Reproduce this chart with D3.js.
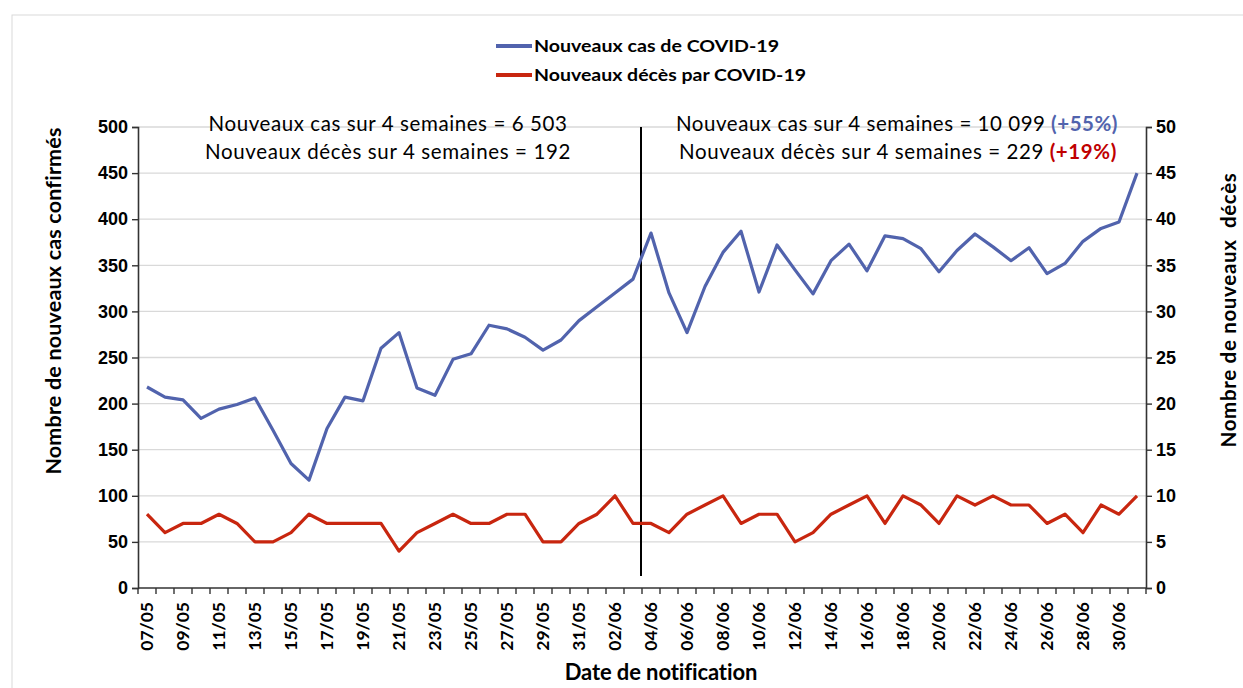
<!DOCTYPE html>
<html><head><meta charset="utf-8">
<script src="https://cdn.jsdelivr.net/npm/d3@7"></script>
<style>
body{margin:0;background:#fff;}
svg{font-family:Lato,"Open Sans",sans-serif;}
</style></head>
<body><svg id="c" width="1243" height="688"></svg>
<script>
const dates = ["07/05","08/05","09/05","10/05","11/05","12/05","13/05","14/05","15/05","16/05","17/05","18/05","19/05","20/05","21/05","22/05","23/05","24/05","25/05","26/05","27/05","28/05","29/05","30/05","31/05","01/06","02/06","03/06","04/06","05/06","06/06","07/06","08/06","09/06","10/06","11/06","12/06","13/06","14/06","15/06","16/06","17/06","18/06","19/06","20/06","21/06","22/06","23/06","24/06","25/06","26/06","27/06","28/06","29/06","30/06","01/07"];
const cases = [218,207,204,184,194,199,206,171,135,117,173,207,203,260,277,217,209,248,254,285,281,272,258,269,290,305,320,335,
               385,320,277,327,364,387,321,372,345,319,355,373,344,382,379,368,343,366,384,370,355,369,341,352,376,390,397,450];
const deaths = [8,6,7,7,8,7,5,5,6,8,7,7,7,7,4,6,7,8,7,7,8,8,5,5,7,8,10,7,
                7,6,8,9,10,7,8,8,5,6,8,9,10,7,10,9,7,10,9,10,9,9,7,8,6,9,8,10];
const leftTicks = [0,50,100,150,200,250,300,350,400,450,500];
const rightTicks = [0,5,10,15,20,25,30,35,40,45,50];
const seriesNames = ["Nouveaux cas de COVID-19","Nouveaux décès par COVID-19"];
const colors = ["#5163ad","#c8260f"];

const svg = d3.select("#c");
const L = 138, R = 1146, T = 127, B = 588;

function fit(sel, target){
  const n = sel.text().length;
  const len = sel.node().getComputedTextLength();
  sel.attr("letter-spacing", ((target-len)/n).toFixed(3));
}

svg.append("rect").attr("x",12).attr("y",15).attr("width",1240).attr("height",690)
  .attr("fill","none").attr("stroke","#d9d9d9");

const x = d3.scaleBand().domain(dates).range([L,R]);
const yL = d3.scaleLinear().domain([0,500]).range([B,T]);
const yR = d3.scaleLinear().domain([0,50]).range([B,T]);

// grid
svg.append("g").selectAll("line").data(leftTicks.filter(d=>d>0)).join("line")
  .attr("x1",L).attr("x2",R).attr("y1",d=>yL(d)).attr("y2",d=>yL(d))
  .attr("stroke","#d9d9d9").attr("stroke-width",1.3);

// left axis
const gl = svg.append("g").attr("transform",`translate(${L},0)`)
  .call(d3.axisLeft(yL).tickValues(leftTicks).tickSize(6).tickPadding(4));
// right axis
const gr = svg.append("g").attr("transform",`translate(${R},0)`)
  .call(d3.axisRight(yR).tickValues(rightTicks).tickSize(6).tickPadding(4));
[gl,gr].forEach(g=>{g.select(".domain").attr("stroke","#333").attr("stroke-width",1.6);
  g.selectAll(".tick line").attr("stroke","#333").attr("stroke-width",1.4);
  g.selectAll(".tick text").attr("font-size",18).attr("font-weight","bold").attr("fill","#000");});

// bottom axis: ticks at boundaries
const gb = svg.append("g").attr("transform",`translate(0,${B})`);
gb.append("line").attr("x1",L).attr("x2",R).attr("stroke","#333").attr("stroke-width",1.6);
gb.selectAll("line.t").data(dates.concat(["end"])).join("line").attr("class","t")
  .attr("x1",(d,i)=>L+i*x.bandwidth()).attr("x2",(d,i)=>L+i*x.bandwidth())
  .attr("y1",0).attr("y2",6).attr("stroke","#333").attr("stroke-width",1.4);
gb.selectAll("text").data(dates.filter((d,i)=>i%2===0)).join("text")
  .attr("transform",d=>`translate(${x(d)+x.bandwidth()/2+6},14) rotate(-90)`)
  .attr("text-anchor","end").attr("font-size",17.5).attr("font-weight","bold").text(d=>d);

// vertical separator
svg.append("line").attr("x1",L+28*x.bandwidth()-1).attr("x2",L+28*x.bandwidth()-1)
  .attr("y1",T).attr("y2",576).attr("stroke","#000").attr("stroke-width",2);

// lines
const lineC = d3.line().x((d,i)=>x(dates[i])+x.bandwidth()/2).y(d=>yL(d));
const lineD = d3.line().x((d,i)=>x(dates[i])+x.bandwidth()/2).y(d=>yR(d));
svg.append("path").datum(cases).attr("d",lineC).attr("fill","none")
  .attr("stroke",colors[0]).attr("stroke-width",3.2).attr("stroke-linejoin","round");
svg.append("path").datum(deaths).attr("d",lineD).attr("fill","none")
  .attr("stroke",colors[1]).attr("stroke-width",3.2).attr("stroke-linejoin","round");

// legend
seriesNames.forEach((n,i)=>{
  const yy = 46 + i*29;
  svg.append("line").attr("x1",496).attr("x2",532).attr("y1",yy).attr("y2",yy)
    .attr("stroke",colors[i]).attr("stroke-width",4);
  svg.append("text").attr("x",534).attr("y",yy+6).attr("font-size",17)
    .attr("font-weight","bold").attr("textLength", i===0?245:272).attr("lengthAdjust","spacingAndGlyphs").text(n);
});

// annotations
function ann(cx, yy, txt, extra, col, target){
  const t = svg.append("text").attr("x",cx).attr("y",yy).attr("text-anchor","middle")
    .attr("font-size",20.5).attr("fill","#000");
  t.append("tspan").text(txt);
  if(extra){ t.append("tspan").attr("font-weight","bold").attr("fill",col).text(" "+extra); }
  fit(t, target);
}
ann(388,131,"Nouveaux cas sur 4 semaines = 6 503",null,null,359);
ann(388,159,"Nouveaux décès sur 4 semaines = 192",null,null,366);
ann(897,131,"Nouveaux cas sur 4 semaines = 10 099","(+55%)",colors[0],442);
ann(898,159,"Nouveaux décès sur 4 semaines = 229","(+19%)","#c00000",438);

// axis titles
const t1 = svg.append("text").attr("transform",`translate(61,301) rotate(-90)`).attr("text-anchor","middle")
  .attr("font-size",21.5).attr("font-weight","bold").text("Nombre de nouveaux cas confirmés");
fit(t1, 347);
const t2 = svg.append("text").attr("transform",`translate(1236,310) rotate(-90)`).attr("text-anchor","middle")
  .attr("font-size",20.5).attr("font-weight","bold").attr("xml:space","preserve").text("Nombre de nouveaux  décès");
fit(t2, 275);
const t3 = svg.append("text").attr("x",661).attr("y",680).attr("text-anchor","middle")
  .attr("font-size",22).attr("font-weight","bold").text("Date de notification");
fit(t3, 193);
</script></body></html>
